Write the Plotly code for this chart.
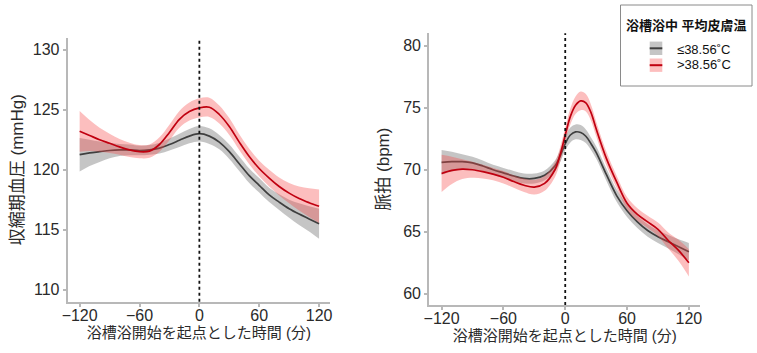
import plotly.graph_objects as go
from plotly.subplots import make_subplots

# ---- data ----
t_sbp = [-120, -110, -100, -90, -80, -70, -60, -50, -40, -30, -20, -10, 0,
         10, 20, 30, 40, 50, 60, 70, 80, 90, 100, 110, 120]
sbp_low = [121.25, 121.4, 121.5, 121.6, 121.65, 121.65, 121.6, 121.65, 121.8, 122.1, 122.45, 122.8, 123.0,
           122.8, 122.3, 121.5, 120.5, 119.5, 118.7, 117.9, 117.3, 116.75, 116.3, 115.9, 115.5]
sbp_low_ci = [1.4, 1.1, 0.85, 0.65, 0.5, 0.45, 0.4, 0.4, 0.45, 0.5, 0.55, 0.6, 0.65,
              0.65, 0.6, 0.6, 0.6, 0.6, 0.6, 0.6, 0.65, 0.75, 0.9, 1.05, 1.25]
sbp_high = [123.2, 122.85, 122.5, 122.2, 121.9, 121.65, 121.5, 121.55, 122.1, 123.1, 124.2, 124.85, 125.15,
            125.2, 124.6, 123.6, 122.3, 121.1, 120.1, 119.3, 118.6, 118.05, 117.6, 117.25, 116.95]
sbp_high_ci = [1.7, 1.3, 1.0, 0.8, 0.65, 0.6, 0.55, 0.55, 0.6, 0.65, 0.7, 0.75, 0.8,
               0.8, 0.75, 0.7, 0.65, 0.65, 0.65, 0.7, 0.75, 0.85, 1.0, 1.2, 1.4]

t_hr = [-120, -110, -100, -90, -80, -70, -60, -50, -40, -30, -20, -10, -5, 0,
        5, 10, 15, 20, 25, 30, 40, 50, 60, 70, 80, 90, 100, 110, 120]
hr_low = [70.6, 70.65, 70.65, 70.55, 70.3, 70.0, 69.75, 69.5, 69.3, 69.3, 69.55, 70.3, 71.1, 72.1,
          72.8, 73.05, 73.0, 72.7, 72.1, 71.4, 69.6, 67.9, 66.7, 65.8, 65.1, 64.6, 64.2, 63.8, 63.4]
hr_low_ci = [1.0, 0.8, 0.6, 0.5, 0.45, 0.4, 0.4, 0.4, 0.4, 0.4, 0.4, 0.45, 0.5, 0.55,
             0.6, 0.6, 0.6, 0.55, 0.5, 0.5, 0.5, 0.5, 0.5, 0.5, 0.5, 0.5, 0.55, 0.6, 0.7]
hr_high = [69.7, 69.95, 70.05, 70.0, 69.85, 69.65, 69.4, 69.05, 68.75, 68.6, 68.9, 70.0, 71.2, 72.8,
           74.3, 75.2, 75.55, 75.4, 74.6, 73.3, 70.9, 69.0, 67.3, 66.4, 65.8, 65.2, 64.3, 63.5, 62.5]
hr_high_ci = [1.5, 1.1, 0.8, 0.65, 0.55, 0.5, 0.5, 0.5, 0.55, 0.6, 0.6, 0.6, 0.6, 0.6,
              0.65, 0.7, 0.75, 0.7, 0.65, 0.6, 0.55, 0.5, 0.5, 0.5, 0.5, 0.55, 0.65, 0.85, 1.1]

x_ticks = [-120, -60, 0, 60, 120]
sbp_ticks = [110, 115, 120, 125, 130]
hr_ticks = [60, 65, 70, 75, 80]

legend_title = "浴槽浴中 平均皮膚温"
group_names = ["≤38.56˚C", ">38.56˚C"]
x_title = "浴槽浴開始を起点とした時間 (分)"
sbp_title = "収縮期血圧 (mmHg)"
hr_title = "脈拍 (bpm)"

# ---- style ----
LINE_COLORS = ["#3f3f3f", "#c00010"]
BAND_COLORS = ["rgba(110,110,110,0.40)", "rgba(245,70,70,0.35)"]
FONT = "Arial, 'Liberation Sans', 'Noto Sans CJK JP', sans-serif"
TXT = "#2a2a2a"

fig = make_subplots(rows=1, cols=2)


def add_group(col, t, mean, ci, i):
    lower = [m - c for m, c in zip(mean, ci)]
    upper = [m + c for m, c in zip(mean, ci)]
    fig.add_trace(go.Scatter(x=t, y=lower, mode="lines", line=dict(width=0, shape="spline"),
                             showlegend=False, hoverinfo="skip"), row=1, col=col)
    fig.add_trace(go.Scatter(x=t, y=upper, mode="lines", line=dict(width=0, shape="spline"),
                             fill="tonexty", fillcolor=BAND_COLORS[i],
                             showlegend=False, hoverinfo="skip"), row=1, col=col)
    fig.add_trace(go.Scatter(x=t, y=mean, mode="lines", name=group_names[i],
                             line=dict(color=LINE_COLORS[i], width=1.7, shape="spline"),
                             showlegend=False), row=1, col=col)


add_group(1, t_sbp, sbp_low, sbp_low_ci, 0)
add_group(1, t_sbp, sbp_high, sbp_high_ci, 1)
add_group(2, t_hr, hr_low, hr_low_ci, 0)
add_group(2, t_hr, hr_high, hr_high_ci, 1)

axis_common = dict(showline=True, linecolor="#b8b8b8", linewidth=2, ticks="outside",
                   ticklen=3, tickcolor="#b8b8b8", tickwidth=1.5, showgrid=False, zeroline=False,
                   automargin=False,
                   tickfont=dict(size=16, color=TXT, family=FONT))

fig.update_xaxes(**axis_common, tickvals=x_ticks, range=[-132, 131], ticklabelstandoff=-5,
                 title=dict(text=x_title, font=dict(size=15, color=TXT, family=FONT), standoff=2))
fig.update_xaxes(domain=[0.0894, 0.436], row=1, col=1)
fig.update_xaxes(domain=[0.567, 0.925], row=1, col=2)

fig.update_yaxes(**axis_common)
fig.update_yaxes(tickvals=sbp_ticks, range=[109.0, 131.0], domain=[0.1453, 0.8932],
                 title=dict(text=sbp_title, font=dict(size=17, color=TXT, family=FONT), standoff=5),
                 row=1, col=1)
fig.update_yaxes(tickvals=hr_ticks, range=[59.1, 81.0], domain=[0.136, 0.9057],
                 title=dict(text=hr_title, font=dict(size=17, color=TXT, family=FONT), standoff=9),
                 row=1, col=2)

# dotted reference line at time 0
fig.add_vline(x=0, line=dict(color="#111111", width=1.8, dash="dot"), row=1, col=1)
fig.add_vline(x=0, line=dict(color="#111111", width=1.8, dash="dot"), row=1, col=2)

# ---- manual legend (paper coords) ----
W, H = 757.0, 353.0
def px(x):
    return x / W
def py(y):
    return 1 - y / H

fig.add_shape(type="rect", xref="paper", yref="paper",
              x0=px(620.5), x1=px(752), y0=py(86), y1=py(5),
              line=dict(color="#8a8a8a", width=1), fillcolor="white", layer="above")
fig.add_annotation(xref="paper", yref="paper", x=px(686), y=py(26), text="<b>" + legend_title + "</b>",
                   showarrow=False, xanchor="center", yanchor="middle",
                   font=dict(size=13, color="#111111", family=FONT))
for i, (yc, yt) in enumerate([(48.3, 49.5), (65.2, 64.5)]):
    fig.add_shape(type="rect", xref="paper", yref="paper",
                  x0=px(649.7), x1=px(662.3), y0=py(yc + 6.7), y1=py(yc - 6.7),
                  line=dict(width=0), fillcolor=BAND_COLORS[i], layer="above")
    fig.add_shape(type="line", xref="paper", yref="paper",
                  x0=px(649.7), x1=px(662.3), y0=py(yc), y1=py(yc),
                  line=dict(color=LINE_COLORS[i], width=2), layer="above")
    fig.add_annotation(xref="paper", yref="paper", x=px(675), y=py(yt), text=group_names[i],
                       showarrow=False, xanchor="left", yanchor="middle",
                       font=dict(size=13, color="#111111", family=FONT))

fig.update_layout(
    width=757, height=353,
    margin=dict(l=0, r=0, t=0, b=0),
    paper_bgcolor="white", plot_bgcolor="white",
    font=dict(family=FONT, color=TXT),
    showlegend=False,
)

fig.write_html("out.html", config={"displayModeBar": False},
               post_script="document.body.style.margin='0px';document.body.style.overflow='hidden';")
